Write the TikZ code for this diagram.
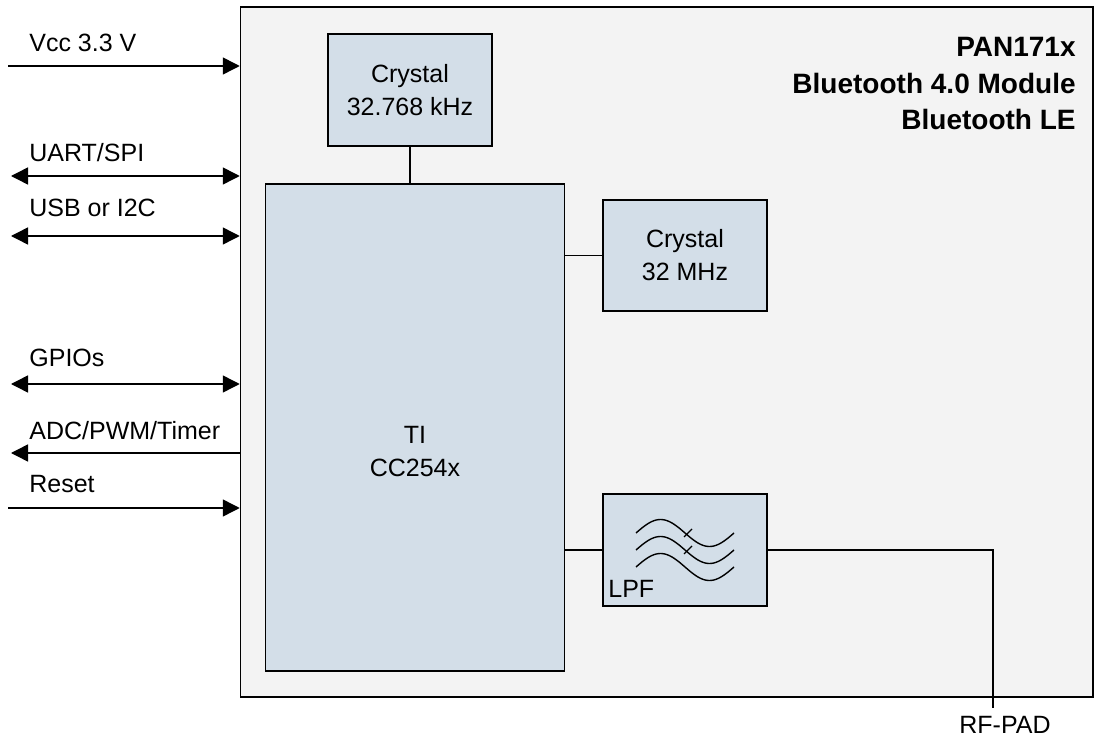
\documentclass[tikz,border=0pt]{standalone}
\usepackage{fontspec}
\setmainfont{Liberation Sans}
\usepackage{xcolor}
\usetikzlibrary{arrows.meta, positioning, calc}

\definecolor{modgray}{RGB}{243,243,243}
\definecolor{blockblue}{RGB}{211,222,232}

\begin{document}
\begin{tikzpicture}[x=0.5pt, y=-0.5pt, % one unit = one pixel, y downwards
		>={Triangle[length=8.5pt, width=8.5pt]},
		module/.style={rectangle, draw=black, fill=modgray, line width=0.75pt, minimum width=426.25pt, minimum height=345pt},
		block/.style={rectangle, draw=black, fill=blockblue, line width=0.75pt, align=center, inner sep=0pt, font=\fontsize{12.5}{16.5}\selectfont},
		txt/.style={inner sep=0pt, font=\fontsize{12.5}{16.5}\selectfont},
		title/.style={inner sep=0pt, align=right, font=\fontsize{14}{18.3}\selectfont\bfseries},
		sig/.style={line width=0.75pt},
		wire/.style={line width=0.75pt},
		wave/.style={line width=0.7pt}
		]
		\useasboundingbox (0,0) rectangle (1100,738);
		
		% Module frame and title
		\node[module] (module) at (666.75,352) {};
		\node[title, anchor=north east] (modtitle) at (1076,37) {PAN171x\\Bluetooth 4.0 Module\\Bluetooth LE};
		
		% Chip and crystals
		\node[block, minimum width=149.5pt, minimum height=243.5pt] (ti) at (415,427.5) {};
		\node[txt, align=center] (tilbl) at ($(ti.center)+(0,24)$) {TI\\CC254x};
		\node[block, minimum width=82pt, minimum height=56pt] (xtal1) at (410,90) {Crystal\\32.768 kHz};
		\draw[wire] (xtal1.south) -- (xtal1.south |- ti.north);
		\node[block, minimum width=82pt, minimum height=55.5pt] (xtal2) at (685,255.5) {Crystal\\32 MHz};
		\draw[wire] (xtal2.west) -- (xtal2.west -| ti.east);
		
		% Low pass filter
		\node[block, minimum width=82pt, minimum height=56pt] (lpf) at (685,550) {};
		\node[txt, anchor=base west] (lpflbl) at (608,597) {LPF};
		\foreach \dy in {0,17,34}
			\draw[wave] plot[domain=0:98, samples=50, smooth] ({636+\x}, {533+\dy-13.5*sin(\x/98*360)});
		\draw[wave] (684,537) -- (692,529);
		\draw[wave] (684,554) -- (692,546);
		\draw[wire] (lpf.west) -- (lpf.west -| ti.east);
		
		% RF pad
		\coordinate (rfpad) at (993,708);
		\draw[wire] (lpf.east) -| (rfpad);
		\node[txt, anchor=base west] (rflbl) at (959,733) {RF-PAD};
		
		% Left side signals
		\coordinate (vcc) at (8,66);
		\draw[sig, ->] (vcc) -- (vcc -| module.west);
		\node[txt, anchor=base west] (vcclbl) at (29,52) {Vcc 3.3 V};
		
		\coordinate (uart) at (11,176);
		\draw[sig, <->] (uart) -- (uart -| module.west);
		\node[txt, anchor=base west] (uartlbl) at (29,162) {UART/SPI};
		
		\coordinate (usb) at (11,236);
		\draw[sig, <->] (usb) -- (usb -| module.west);
		\node[txt, anchor=base west] (usblbl) at (29,217) {USB or I2C};
		
		\coordinate (gpio) at (11,384);
		\draw[sig, <->] (gpio) -- (gpio -| module.west);
		\node[txt, anchor=base west] (gpiolbl) at (29,367) {GPIOs};
		
		\coordinate (adc) at (11,453);
		\draw[sig, <-] (adc) -- (adc -| module.west);
		\node[txt, anchor=base west] (adclbl) at (29,439) {ADC/PWM/Timer};
		
		\coordinate (reset) at (8,508);
		\draw[sig, ->] (reset) -- (reset -| module.west);
		\node[txt, anchor=base west] (resetlbl) at (29,493) {Reset};
		
	\end{tikzpicture}
\end{document}
